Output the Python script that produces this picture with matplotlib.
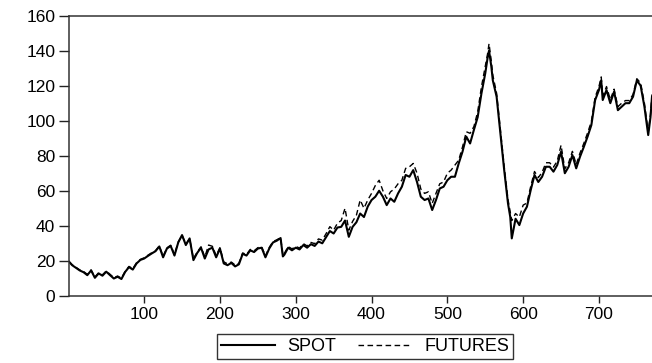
import matplotlib
matplotlib.use("Agg")
import matplotlib.pyplot as plt

obs = [1, 5, 10, 15, 20, 25, 30, 35, 40, 45, 50, 55, 60, 65, 70, 75, 80, 85, 90, 95,
       100, 105, 110, 115, 120, 125, 130, 135, 140, 145, 150, 155, 160, 165, 170, 175,
       180, 185, 190, 195, 200, 205, 210, 215, 220, 225, 230, 235, 240, 245, 250, 255,
       260, 265, 270, 275, 280, 283, 285, 290, 295, 300, 305, 310, 315, 320, 325, 330,
       335, 340, 345, 350, 355, 360, 365, 370, 375, 380, 385, 390, 395, 400, 405, 410,
       415, 420, 425, 430, 435, 440, 445, 450, 455, 460, 465, 470, 475, 480, 485, 490,
       495, 500, 505, 510, 515, 520, 525, 530, 535, 540, 545, 550, 553, 555, 558, 560,
       565, 570, 575, 580, 583, 585, 590, 595, 600, 605, 610, 615, 620, 625, 630, 635,
       640, 645, 650, 655, 660, 665, 670, 675, 680, 685, 690, 695, 700, 703, 705, 710,
       715, 720, 725, 730, 735, 740, 745, 750, 755, 760, 765, 768, 770]

spot = [19.4, 17.5, 16.0, 14.5, 13.5, 11.8, 14.5, 10.3, 12.8, 11.5, 13.8, 11.8, 9.9, 10.9,
        9.6, 13.7, 16.4, 15.0, 18.5, 20.5,
        21.3, 22.8, 24.2, 25.5, 28.2, 22.0, 27.0, 28.5, 23.0, 30.5, 34.7, 29.0, 32.8, 20.4,
        24.5, 27.5, 21.3, 26.5, 27.5, 22.0, 27.0, 18.5, 17.5, 18.8, 16.8, 18.0, 24.0, 23.0,
        26.0, 25.0, 27.0, 27.5, 22.0, 27.0, 30.5, 31.5, 33.0, 22.5, 23.5, 27.5, 26.0, 27.5,
        26.5, 29.0, 27.5, 29.5, 28.5, 31.0, 30.0, 33.5, 37.0, 35.6, 39.0, 39.4, 43.0, 33.7,
        39.4, 42.0, 47.0, 45.0, 51.0, 54.7, 56.6, 60.0, 56.6, 51.8, 55.6, 53.7, 58.5, 62.3,
        69.0, 68.0, 71.8, 65.0, 56.6, 54.7, 55.6, 49.0, 54.7, 61.3, 62.3, 66.0, 68.0, 68.0,
        75.6, 82.3, 90.9, 87.0, 94.7, 102.0, 115.6, 127.0, 135.6, 140.0, 131.0, 123.0,
        113.7, 92.8, 71.8, 52.8, 45.0, 32.8, 44.0, 40.4, 47.0, 50.9, 60.4, 69.0, 65.0, 68.0,
        73.7, 73.7, 70.9, 74.7, 82.3, 70.0, 73.7, 80.4, 72.8, 79.4, 85.0, 90.9, 97.5, 111.8,
        117.5, 123.0, 111.8, 117.5, 110.0, 116.6, 106.0, 108.0, 110.0, 110.0, 113.7, 123.0,
        120.0, 108.0, 91.8, 102.0, 113.7]

futures = [19.6, 17.8, 16.3, 14.8, 13.9, 12.3, 14.8, 10.8, 13.2, 12.0, 14.2, 12.3, 10.4, 11.3,
           10.1, 14.1, 16.8, 15.5, 18.9, 20.8,
           21.7, 23.2, 24.6, 25.8, 28.5, 22.6, 27.4, 28.9, 23.6, 30.8, 34.5, 29.6, 32.6, 21.2,
           25.0, 28.0, 22.2, 29.0, 28.3, 23.0, 27.5, 19.4, 18.3, 19.3, 17.6, 18.6, 24.5, 23.6,
           26.5, 25.7, 27.5, 28.0, 22.8, 27.6, 31.0, 32.0, 33.2, 23.2, 24.2, 28.2, 26.8, 28.2,
           27.3, 29.8, 28.5, 30.5, 29.8, 32.5, 31.8, 35.5, 39.5, 37.5, 41.5, 43.0, 50.0, 37.5,
           42.5, 46.0, 54.7, 50.0, 54.7, 58.5, 63.0, 66.0, 60.0, 55.6, 59.4, 61.0, 64.0, 66.0,
           72.8, 73.7, 75.6, 70.0, 61.0, 58.5, 59.4, 52.8, 58.5, 64.0, 65.0, 70.0, 71.8, 74.7,
           77.5, 85.0, 93.7, 92.8, 96.6, 105.0, 119.4, 130.9, 138.0, 144.0, 134.0, 126.0,
           115.6, 95.0, 74.0, 55.0, 48.0, 43.0, 47.0, 45.0, 51.8, 53.0, 62.5, 71.0, 67.5, 70.5,
           76.0, 76.0, 73.5, 77.0, 86.0, 72.5, 76.0, 82.5, 75.0, 81.5, 87.0, 93.0, 99.5, 113.5,
           119.5, 125.0, 114.0, 119.5, 112.0, 118.0, 108.0, 110.0, 111.5, 111.5, 115.0, 124.0,
           121.5, 110.0, 93.5, 103.5, 115.0]

x_ticks = [100, 200, 300, 400, 500, 600, 700]
y_ticks = [0, 20, 40, 60, 80, 100, 120, 140, 160]

plt.rcParams['font.family'] = ['Liberation Sans', 'DejaVu Sans']

fig = plt.figure(figsize=(6.52, 3.63), dpi=100)
ax = fig.add_axes([0.106, 0.185, 0.894, 0.772])

ax.plot(obs, spot, color='black', linewidth=1.5, label='SPOT')
ax.plot(obs, futures, color='black', linewidth=1.0, dashes=(4, 2.5), label='FUTURES')

ax.set_xlim(1, 770)
ax.set_ylim(0, 160)
ax.set_xticks(x_ticks)
ax.set_yticks(y_ticks)
ax.tick_params(direction='out', length=5, width=1, colors='#222222',
               labelsize=12.5, labelcolor='black', pad=3)
ax.tick_params(axis='y', length=7)

for side in ['left', 'bottom', 'top']:
    ax.spines[side].set_color('#333333')
    ax.spines[side].set_linewidth(1.1)
ax.spines['right'].set_visible(False)

leg = fig.legend(loc='center', bbox_to_anchor=(0.560, 0.0455), ncol=2, fontsize=13,
                 frameon=True, fancybox=False, handlelength=3.0, handletextpad=0.7,
                 columnspacing=1.2, borderpad=0.2, borderaxespad=0)
leg.get_frame().set_edgecolor('black')
leg.get_frame().set_linewidth(1.0)

fig.savefig('out.png', dpi=100)
